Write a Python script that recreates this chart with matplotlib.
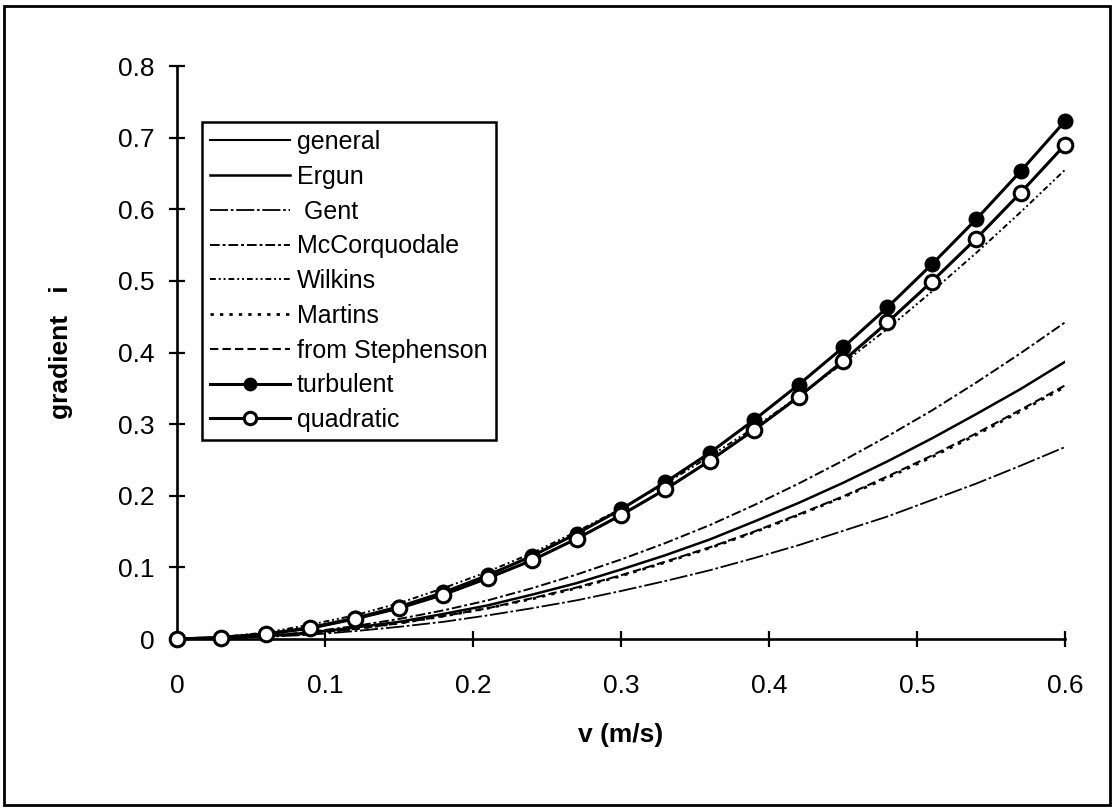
import matplotlib
matplotlib.use("Agg")
import matplotlib.pyplot as plt
from matplotlib.patches import Rectangle

plt.rcParams['font.family'] = ['Liberation Sans', 'DejaVu Sans']

# velocity grid (m/s)
v = [0.00, 0.03, 0.06, 0.09, 0.12, 0.15, 0.18, 0.21, 0.24, 0.27, 0.30,
     0.33, 0.36, 0.39, 0.42, 0.45, 0.48, 0.51, 0.54, 0.57, 0.60]

# hydraulic gradient for each formula
general = [0.0, 0.002, 0.007, 0.015, 0.028, 0.043, 0.062, 0.085, 0.110, 0.140, 0.173,
           0.209, 0.249, 0.292, 0.338, 0.388, 0.442, 0.499, 0.559, 0.623, 0.690]
ergun = [0.0, 0.001, 0.004, 0.009, 0.016, 0.024, 0.035, 0.047, 0.062, 0.078, 0.097,
         0.117, 0.139, 0.164, 0.190, 0.218, 0.248, 0.280, 0.314, 0.349, 0.387]
gent = [0.0, 0.001, 0.003, 0.006, 0.011, 0.017, 0.024, 0.033, 0.043, 0.054, 0.067,
        0.081, 0.096, 0.113, 0.131, 0.151, 0.171, 0.194, 0.217, 0.242, 0.268]
mccorquodale = [0.0, 0.001, 0.004, 0.010, 0.018, 0.028, 0.040, 0.054, 0.071, 0.090, 0.111,
                0.134, 0.159, 0.187, 0.217, 0.249, 0.283, 0.319, 0.358, 0.399, 0.442]
wilkins = [0.0, 0.003, 0.009, 0.020, 0.033, 0.050, 0.071, 0.094, 0.120, 0.150, 0.182,
           0.217, 0.255, 0.295, 0.339, 0.385, 0.433, 0.485, 0.539, 0.596, 0.655]
martins = [0.0, 0.001, 0.004, 0.008, 0.014, 0.022, 0.032, 0.043, 0.056, 0.071, 0.088,
           0.107, 0.127, 0.149, 0.173, 0.198, 0.225, 0.254, 0.285, 0.318, 0.352]
stephenson = [0.0, 0.001, 0.004, 0.008, 0.014, 0.022, 0.032, 0.043, 0.057, 0.072, 0.089,
              0.108, 0.128, 0.150, 0.174, 0.199, 0.227, 0.256, 0.287, 0.320, 0.354]
turbulent = [0.0, 0.002, 0.007, 0.016, 0.029, 0.045, 0.065, 0.089, 0.116, 0.147, 0.181,
             0.219, 0.260, 0.306, 0.355, 0.407, 0.463, 0.523, 0.586, 0.653, 0.723]
quadratic = [0.0, 0.002, 0.007, 0.015, 0.028, 0.043, 0.062, 0.085, 0.110, 0.140, 0.173,
             0.209, 0.249, 0.292, 0.338, 0.388, 0.442, 0.499, 0.559, 0.623, 0.690]

x_ticks = [0.0, 0.1, 0.2, 0.3, 0.4, 0.5, 0.6]
x_tick_labels = ["0", "0.1", "0.2", "0.3", "0.4", "0.5", "0.6"]
y_ticks = [0.0, 0.1, 0.2, 0.3, 0.4, 0.5, 0.6, 0.7, 0.8]
y_tick_labels = ["0", "0.1", "0.2", "0.3", "0.4", "0.5", "0.6", "0.7", "0.8"]

fig = plt.figure(figsize=(11.14, 8.10), dpi=100)
ax = fig.add_axes([0.1589, 0.2111, 0.7971, 0.7074])

k = 'black'
ax.plot(v, general, color=k, lw=1.5, ls='-', label='general')
ax.plot(v, ergun, color=k, lw=1.8, ls='-', label='Ergun')
ax.plot(v, gent, color=k, lw=1.3, ls=(0, (10, 1.5, 1.5, 1.5)), label=' Gent')
ax.plot(v, mccorquodale, color=k, lw=1.4, ls=(0, (5, 1.5, 1.5, 1.5)), label='McCorquodale')
ax.plot(v, wilkins, color=k, lw=1.4, ls=(0, (3, 1.5, 1, 1.5, 1, 1.5)), label='Wilkins')
ax.plot(v, martins, color=k, lw=2.0, ls=(0, (1.2, 2.2)), label='Martins')
ax.plot(v, stephenson, color=k, lw=1.5, ls=(0, (4, 2)), label='from Stephenson')
ax.plot(v, turbulent, color=k, lw=2.2, marker='o', ms=10.5, mfc=k, mec=k,
        label='turbulent', clip_on=False, zorder=5)
ax.plot(v, quadratic, color=k, lw=2.2, marker='o', ms=10.5, mfc='white', mec=k,
        mew=2.2, label='quadratic', clip_on=False, zorder=6)

ax.set_xlim(0, 0.6)
ax.set_ylim(0, 0.8)
ax.set_xticks(x_ticks)
ax.set_xticklabels(x_tick_labels)
ax.set_yticks(y_ticks)
ax.set_yticklabels(y_tick_labels)

for side in ('top', 'right'):
    ax.spines[side].set_visible(False)
for side in ('left', 'bottom'):
    ax.spines[side].set_linewidth(1.9)

ax.tick_params(axis='both', direction='inout', length=12, width=1.6, labelsize=19)
ax.tick_params(axis='x', pad=19)
ax.tick_params(axis='y', pad=10)

ax.set_xlabel('v (m/s)', fontsize=19, fontweight='bold')
ax.set_ylabel('gradient   i', fontsize=19, fontweight='bold')
ax.xaxis.set_label_coords(0.5, -0.147)
ax.yaxis.set_label_coords(-0.117, 0.5)

leg = ax.legend(loc='upper left', bbox_to_anchor=(0.028, 0.902), borderaxespad=0,
                fontsize=18, frameon=True, fancybox=False, shadow=False,
                numpoints=1, markerscale=0.85,
                handlelength=3.2, handletextpad=0.28, borderpad=0.32,
                labelspacing=0.43, framealpha=1, edgecolor='black')
leg.get_frame().set_linewidth(1.8)

# outer frame around the whole figure
fig.patches.append(Rectangle((0.004, 0.006), 0.992, 0.986, transform=fig.transFigure,
                             fill=False, edgecolor='black', linewidth=2.0))

fig.savefig('out.png', dpi=100)
